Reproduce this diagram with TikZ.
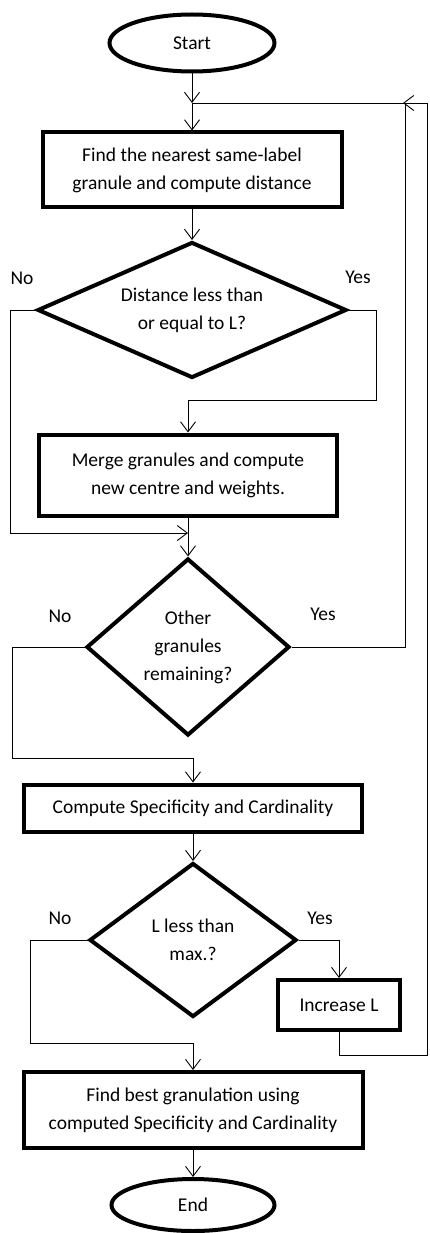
\documentclass[tikz,border=0pt]{standalone}
\usepackage{fontspec}
\setmainfont{Carlito}
\usetikzlibrary{arrows.meta,positioning,calc,shapes.geometric}

\begin{document}
\begin{tikzpicture}[x=1pt,y=-1pt,
  every node/.style={font=\fontsize{19.5}{28}\selectfont},
  term/.style={draw,ellipse,line width=4pt,inner sep=0pt},
  b/.style={draw,line width=4pt,align=center,inner sep=0pt},
  dec/.style={draw,diamond,line width=4pt,align=center,inner sep=0pt},
  ar/.style={-{Straight Barb[length=10pt,width=15pt]},line width=0.9pt},
  ln/.style={line width=0.9pt},
  lab/.style={inner sep=0pt}]
\useasboundingbox (0,0) rectangle (429,1233);
\node[term,minimum width=165pt,minimum height=57pt] (start) at (192,43) {Start};
\coordinate (j) at (192,103);
\node[b,minimum width=299pt,minimum height=75pt] (find) at (192,170)
  {Find the nearest same-label\\granule and compute distance};
\node[dec,minimum width=309pt,minimum height=136pt,aspect=2.27] (dist) at (192,310)
  {Distance less than\\or equal to L?};
\node[lab] at (22,278) {No};
\node[lab] at (358,277) {Yes};
\node[b,minimum width=298pt,minimum height=81pt] (merge) at (188,475)
  {Merge granules and compute\\new centre and weights.};
\coordinate (m1) at (188,533);
\node[dec,minimum width=203pt,minimum height=177pt,aspect=1.15] (other) at (188,647)
  {Other\\granules\\remaining?};
\node[lab] at (60,616) {No};
\node[lab] at (323,614) {Yes};
\node[b,minimum width=338pt,minimum height=47pt] (comp) at (193,808)
  {Compute Specificity and Cardinality};
\node[dec,minimum width=207pt,minimum height=154pt,aspect=1.34] (lmax) at (193,940)
  {L less than\\max.?};
\node[lab] at (60,918) {No};
\node[lab] at (320,918) {Yes};
\node[b,minimum width=122pt,minimum height=50pt] (inc) at (339,1005) {Increase L};
\coordinate (j2) at (403,103);
\node[b,minimum width=339pt,minimum height=76pt] (best) at (193,1110)
  {Find best granulation using\\computed Specificity and Cardinality};
\node[term,minimum width=163pt,minimum height=52pt] (end) at (193,1205) {End};

\draw[ar] (start) -- (j);
\draw[ar] (j) -- (find);
\draw[ar] (find) -- (dist);
\draw[ar] (dist.west) -- ++(-25,0) |- (m1);
\draw[ar] (dist.east) -- ++(28,0) -- ++(0,90) -| (merge.north);
\draw[ar] (merge) -- (other);
\draw[ln] (other.east) -- ++(114,0) |- (j);
\draw[ar] (other.west) -- ++(-72,0) -- ++(0,111) -| (comp.north);
\draw[ar] (comp) -- (lmax);
\draw[ar] (lmax.east) -| (inc.north);
\draw[ar] (inc.south) -- ++(0,23) -- ++(88,0) |- (j2);
\draw[ar] (lmax.west) -- ++(-57,0) -- ++(0,103) -| (best.north);
\draw[ar] (best) -- (end);
\end{tikzpicture}
\end{document}
